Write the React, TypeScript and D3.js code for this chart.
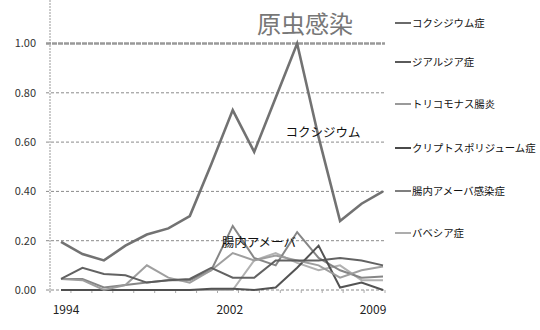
import React from "react";
import * as d3 from "d3";

// Years on the category axis
const years = [1994, 1995, 1996, 1997, 1998, 1999, 2000, 2001, 2002, 2003, 2004, 2005, 2006, 2007, 2008, 2009];
const yearLabels = [1994, 2002, 2009];
const yTicks = [0, 0.2, 0.4, 0.6, 0.8, 1.0];

// Series values per year
const coccidium = [0.195, 0.146, 0.12, 0.18, 0.225, 0.25, 0.3, 0.51, 0.73, 0.56, 0.78, 1.0, 0.62, 0.28, 0.35, 0.4];
const giardia = [0.045, 0.09, 0.065, 0.06, 0.03, 0.04, 0.045, 0.09, 0.05, 0.05, 0.12, 0.12, 0.12, 0.13, 0.12, 0.1];
const trichomonas = [0.045, 0.04, 0.0, 0.02, 0.1, 0.05, 0.03, 0.08, 0.15, 0.12, 0.14, 0.12, 0.1, 0.05, 0.08, 0.095];
const crypto = [0, 0, 0, 0, 0, 0, 0, 0.005, 0.005, 0, 0.01, 0.09, 0.18, 0.01, 0.03, 0];
const amoeba = [0.045, 0.045, 0.01, 0.02, 0.03, 0.04, 0.04, 0.08, 0.26, 0.13, 0.1, 0.235, 0.13, 0.08, 0.05, 0.055];
const babesia = [0, 0, 0, 0, 0, 0, 0, 0, 0, 0.12, 0.15, 0.11, 0.08, 0.1, 0.04, 0.04];

const seriesNames = ["コクシジウム症", "ジアルジア症", "トリコモナス腸炎", "クリプトスポリジューム症", "腸内アメーバ感染症", "バベシア症"];
const seriesValues = [coccidium, giardia, trichomonas, crypto, amoeba, babesia];
const seriesColors = ["#6a6a6a", "#5a5a5a", "#9a9a9a", "#4a4a4a", "#7f7f7f", "#adadad"];
const seriesWidths = [2.6, 2, 2, 2, 2, 2];

const W = 540;
const H = 330;
const font = "'Noto Sans CJK JP', 'Noto Sans', sans-serif";

export default function App() {
  const left = 50;
  const right = 385;
  const x = d3.scalePoint<number>().domain(years).range([61, 383]);
  const y = d3.scaleLinear().domain([0, 1]).range([290, 43.5]);
  const labelX = d3.scaleLinear().domain([years[0], years[years.length - 1]]).range([66, 373]);

  const line = d3
    .line<number>()
    .x((_, i) => x(years[i]) as number)
    .y((v) => y(v));

  const catTicks = d3.range(years.length + 1).map((i) => left + i * ((right - left) / years.length));

  const legendY = [23, 62, 104, 148, 191, 233];

  return (
    <svg width={W} height={H} style={{ position: "absolute", left: 0, top: 0, background: "#fff" }} fontFamily={font}>
      <rect width={W} height={H} fill="#fff" />
      {/* gridlines */}
      {yTicks.map((t) => (
        <line
          key={t}
          x1={left - 4}
          x2={right}
          y1={y(t)}
          y2={y(t)}
          stroke={t === 1 ? "#999" : "#8a8a8a"}
          strokeWidth={t === 1 ? 2.6 : 1}
          strokeDasharray={t === 1 ? "5,1" : "3,2"}
        />
      ))}
      {/* y axis */}
      <line x1={left} x2={left} y1={0} y2={292} stroke="#999" strokeWidth={1} strokeDasharray="2,1" />
      {/* x axis minor ticks */}
      {catTicks.map((cx, i) => (
        <line key={i} x1={cx} x2={cx} y1={290} y2={293} stroke="#aaa" strokeWidth={1} />
      ))}
      {/* y tick labels */}
      {yTicks.map((t) => (
        <text key={t} x={36} y={y(t)} dy="0.35em" textAnchor="end" fontSize={11} fill="#333">
          {d3.format(".2f")(t)}
        </text>
      ))}
      {/* x tick labels */}
      {yearLabels.map((yr) => (
        <text key={yr} x={labelX(yr)} y={314} textAnchor="middle" fontSize={12} fill="#222">
          {yr}
        </text>
      ))}
      {/* series lines, drawn back to front */}
      {seriesValues
        .map((vals, i) => ({ vals, i }))
        .reverse()
        .map(({ vals, i }) => (
          <path
            key={seriesNames[i]}
            d={line(vals) || ""}
            fill="none"
            stroke={seriesColors[i]}
            strokeWidth={seriesWidths[i]}
            strokeLinejoin="miter"
            opacity={0.95}
          />
        ))}
      {/* title */}
      <text x={305} y={33} textAnchor="middle" fontSize={24} fill="#777">
        原虫感染
      </text>
      {/* annotations */}
      <text x={(x(2006) as number) - 33} y={137} fontSize={12.5} fill="#111">
        コクシジウム
      </text>
      <text x={(x(2002) as number) - 11} y={247} fontSize={12.5} fill="#111">
        腸内アメーバ
      </text>
      {/* legend */}
      {seriesNames.map((name, i) => (
        <g key={name} transform={`translate(395,${legendY[i]})`}>
          <line x1={0} x2={16} y1={0} y2={0} stroke={seriesColors[i]} strokeWidth={2} />
          <text x={17} y={0} dy="0.35em" fontSize={10.4} fill="#111">
            {name}
          </text>
        </g>
      ))}
    </svg>
  );
}
